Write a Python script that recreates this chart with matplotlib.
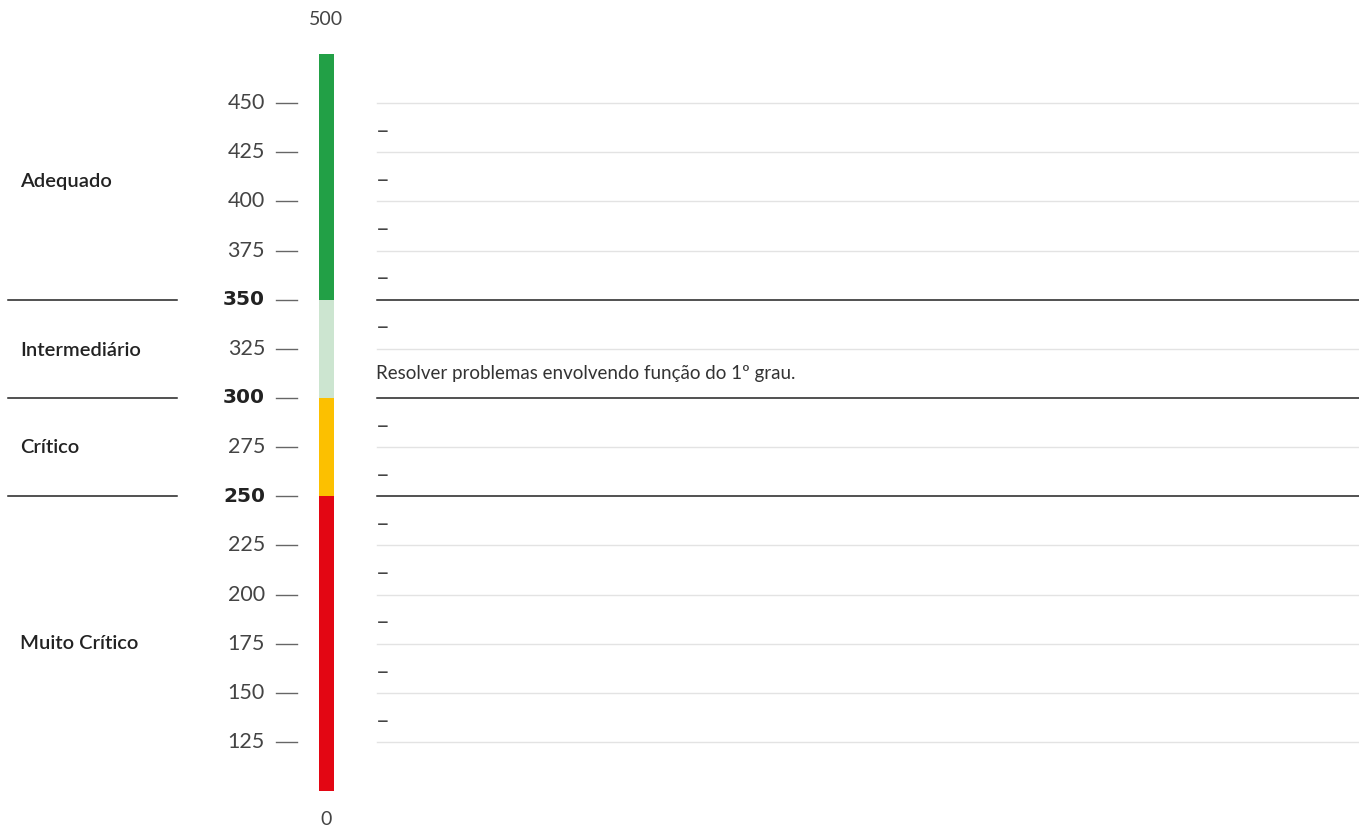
import matplotlib
matplotlib.use("Agg")
import matplotlib.pyplot as plt

# ---- data ----
level_names = ["Muito Crítico", "Crítico", "Intermediário", "Adequado"]
level_low = [100, 250, 300, 350]
level_high = [250, 300, 350, 475]
level_colors = ["#e30613", "#fcc000", "#cce5d0", "#22a046"]
level_label_y = [175, 275, 324, 410]

tick_values = [125, 150, 175, 200, 225, 250, 275, 300, 325, 350, 375, 400, 425, 450]
bold_ticks = [250, 300, 350]
scale_min_label = "0"
scale_max_label = "500"

# descriptions per interval (lower bound -> text); "–" means empty
interval_lows = [125, 150, 175, 200, 225, 250, 275, 300, 325, 350, 375, 400, 425]
interval_texts = ["–", "–", "–", "–", "–", "–", "–",
                  "Resolver problemas envolvendo função do 1º grau.",
                  "–", "–", "–", "–", "–"]

# ---- figure ----
W, H = 1359, 831
fig = plt.figure(figsize=(W / 100, H / 100), dpi=100)
ax = fig.add_axes([0, 0, 1, 1])
ax.set_xlim(0, W)
ax.set_ylim(79.8, 502.4)
ax.axis("off")

font = "Lato"

# color bar
bar_x0, bar_x1 = 319, 334
for lo, hi, c in zip(level_low, level_high, level_colors):
    ax.fill_between([bar_x0, bar_x1], lo, hi, color=c, linewidth=0)

# ticks
for v in tick_values:
    if v in bold_ticks:
        ax.text(265, v, str(v), ha="right", va="center", fontsize=14.5,
                family="DejaVu Sans", color="#222222", fontweight="bold")
    else:
        ax.text(265, v, str(v), ha="right", va="center", fontsize=15.5,
                family=font, color="#444444")
    ax.plot([276, 297], [v, v], color="#666666", lw=1.0)

ax.text(326, 492.5, scale_max_label, ha="center", va="center", fontsize=14,
        family=font, color="#444444")
ax.text(326, 85.5, scale_min_label, ha="center", va="center", fontsize=14,
        family=font, color="#444444")

# right grid lines
for v in tick_values:
    if v in bold_ticks:
        ax.plot([377, W], [v, v], color="#222222", lw=1.1)
    else:
        ax.plot([377, W], [v, v], color="#e3e3e3", lw=1.0)

# interval descriptions
for lo, t in zip(interval_lows, interval_texts):
    if t == "–":
        ax.text(376, lo + 10.6, t, ha="left", va="center",
                fontsize=17, family=font, color="#444444")
    else:
        ax.text(376, lo + 12.5, t, ha="left", va="center",
                fontsize=13.5, family=font, color="#333333")

# level labels and separators
for name, y in zip(level_names, level_label_y):
    ax.text(20, y, name, ha="left", va="center", fontsize=14.5,
            family=font, color="#222222", fontweight="semibold")
for v in bold_ticks:
    ax.plot([8, 177], [v, v], color="#222222", lw=1.1)

fig.savefig("out.png", dpi=100)
